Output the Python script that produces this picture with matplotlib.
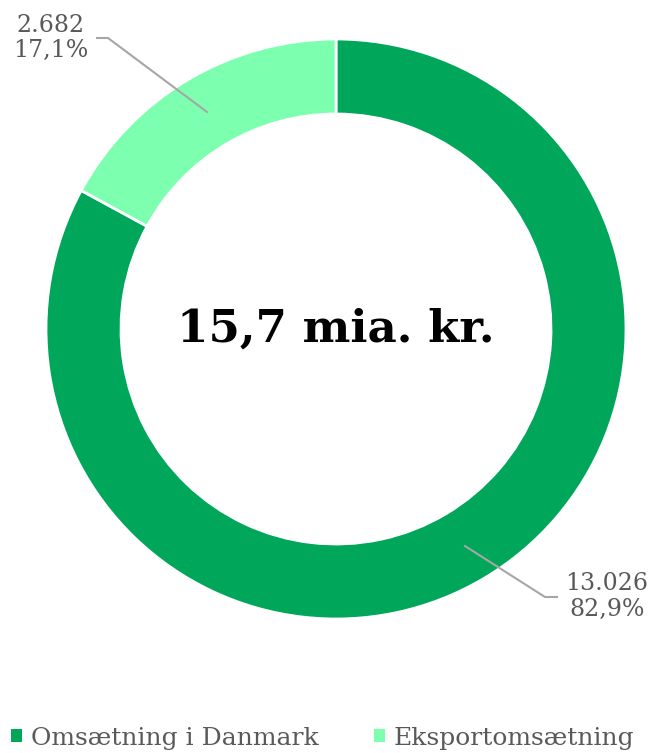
import numpy as np
import matplotlib
matplotlib.use("Agg")
import matplotlib.pyplot as plt
from matplotlib.patches import Patch

categories = ["Omsætning i Danmark", "Eksportomsætning"]
values = [13026, 2682]
value_labels = ["13.026", "2.682"]
pct_labels = ["82,9%", "17,1%"]
center_text = "15,7 mia. kr."
colors = ["#00A65A", "#7DFFB0"]

W, H = 652, 753
fig = plt.figure(figsize=(W / 100, H / 100), dpi=100)
ax = fig.add_axes([0, 0, 1, 1])
ax.set_xlim(0, W)
ax.set_ylim(0, H)
ax.set_aspect("equal")
ax.axis("off")

cx, cy = 336, H - 329
R = 290
width = 75

wedges, _ = ax.pie(values, colors=colors, startangle=90, counterclock=False,
                   radius=R, center=(cx, cy),
                   wedgeprops=dict(width=width, edgecolor="white", linewidth=2))
ax.set_xlim(0, W)
ax.set_ylim(0, H)

font = "DejaVu Serif"
txtc = "#595959"
ax.text(cx, cy, center_text, ha="center", va="center", fontsize=32.5,
        fontweight="bold", family=font, color="black")

# leader lines and labels
r_mid = R - width / 2
elbows = [((545, H - 597), (557, H - 597), 607),
          ((108, H - 38), (97, H - 38), 51)]
for w, vl, pl, (e1, e2, tx) in zip(wedges, value_labels, pct_labels, elbows):
    ang = np.deg2rad((w.theta1 + w.theta2) / 2)
    px, py = cx + r_mid * np.cos(ang), cy + r_mid * np.sin(ang)
    ax.plot([px, e1[0], e2[0]], [py, e1[1], e2[1]], color="#A6A6A6", lw=1.5)
    ax.text(tx, e2[1] + 13, vl, ha="center", va="center", fontsize=17, family=font, color=txtc)
    ax.text(tx, e2[1] - 12, pl, ha="center", va="center", fontsize=17, family=font, color=txtc)

handles = [Patch(facecolor=c, edgecolor="none") for c in colors]
leg = fig.legend(handles, categories, loc="center", bbox_to_anchor=(0.495, 1 - 738 / H),
                 ncol=2, frameon=False, handlelength=0.45, handleheight=0.45,
                 handletextpad=0.35, columnspacing=2.2,
                 prop=dict(family=font, size=18))
for t in leg.get_texts():
    t.set_color(txtc)

fig.savefig("out.png", dpi=100)
